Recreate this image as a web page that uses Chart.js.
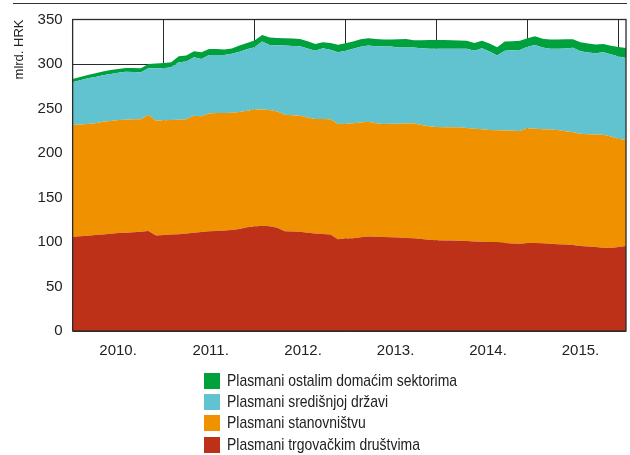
<!DOCTYPE html>
<html>
<head>
<meta charset="utf-8">
<script src="https://cdn.jsdelivr.net/npm/chart.js@4"></script>
<style>
    html, body { margin: 0; padding: 0; background: #fff; }
    #okvir { position: relative; width: 630px; height: 455px; }
    #crta { position: absolute; left: 13px; top: 3px; width: 614px; border-top: 1.5px solid #333; }
    #legenda {
        position: absolute; left: 204px; top: 370px;
        font-family: "Liberation Sans", Arial, sans-serif;
        font-size: 17px; color: #222;
    }
    #legenda div { display: flex; align-items: center; height: 21.3px; white-space: nowrap; }
    #legenda span.kvadrat { width: 16px; height: 16px; margin-right: 7px; display: inline-block; flex: none; }
    #legenda span.tekst { display: inline-block; transform: scaleX(0.82); transform-origin: left center; }
</style>
</head>
<body>
<div id="okvir">
    <div id="crta"></div>
    <canvas id="plasmaniChart" width="630" height="455"></canvas>
    <div id="legenda"></div>
</div>
<script>
// Mjesečni podaci, prosinac 2009. - siječanj 2016., mlrd. HRK
const trgovackimDrustvima = [
    106, 106.5, 107, 107.8, 108.5, 109.3, 110, 110.5, 111, 111.5, 112.5, 107.2,
    107.8, 108.3, 108.8, 109.5, 110.5, 111.2, 112, 112.5, 113, 113.5, 114.5, 116.5,
    117.5, 118.2, 117.8, 116, 112, 111.8, 111.4, 110.5, 109.5, 109, 108.4, 103.2,
    103.8, 104.3, 105.3, 106.1, 105.9, 105.6, 105.4, 105, 104.6, 104.2, 103.3, 102.5,
    102, 101.8, 101.6, 101.3, 101, 100.6, 100.2, 99.8, 99.4, 99, 98.4, 97.9,
    98.8, 99, 98.6, 98.1, 97.6, 97.1, 96.6, 95.5, 95, 94.5, 93.6, 93.2,
    94.5, 95.5
];
const stanovnistvu = [
    125.4, 125.5, 125.6, 125.7, 126.5, 126.7, 127, 127, 126.8, 126.5, 130.2, 129.1,
    128.9, 128.7, 128.7, 128.5, 131.4, 130.1, 132.5, 132.4, 132, 131.7, 131.5, 131,
    131.5, 130.8, 130.5, 130.5, 131, 130.7, 130.5, 129.5, 128.7, 129.2, 129.6, 129.4,
    129, 129, 128.9, 129.1, 127.6, 127, 127.4, 128, 128.6, 129.1, 128.2, 127.5,
    127.2, 127.2, 127.3, 127.5, 127, 126.7, 126.4, 126, 126.1, 126.2, 126.5, 126.8,
    128.9, 128.2, 128.2, 128.2, 128.2, 127.4, 126.7, 126, 126, 126.3, 127, 125.3,
    121.5, 119
];
const sredisnjojDrzavi = [
    48, 49.8, 51.4, 52, 52.3, 52.8, 53.2, 53.9, 53.2, 52.7, 52.5, 58.9,
    58.5, 59.3, 64.4, 64.7, 65.7, 64.4, 65.5, 65.3, 65.2, 66.3, 67.9, 69,
    69.8, 76.2, 73.1, 74.5, 77.7, 77.8, 78.1, 77.5, 76.8, 79.5, 78, 80.6,
    82.2, 83.7, 85.3, 85.5, 86.5, 87, 86.8, 85.6, 85.2, 85.1, 86.3, 87.2,
    87.8, 88, 88.1, 88.2, 89, 87.7, 91.1, 88.2, 84, 89.8, 90.6, 91.1,
    91.8, 94.2, 91.7, 90.7, 91.2, 93, 94.9, 92.8, 91.8, 91.3, 92.6, 92.5,
    92.5, 92.3
];
const ostalimSektorima = [
    3.8, 3.7, 3.7, 4, 4.2, 4.5, 4.3, 4.2, 4.4, 4.5, 4.8, 5.5,
    6, 5.7, 6.8, 6.8, 6.7, 7.5, 6.8, 6.6, 6, 6, 6.8, 7,
    7.5, 7.5, 8.3, 8.3, 8.3, 8.3, 8.2, 8, 7.6, 6.8, 7.5, 8.3,
    8.2, 8.2, 8.3, 8.3, 8, 7.9, 7.9, 9.1, 9.8, 8.3, 9, 9.8,
    10.1, 9.9, 9.6, 9.3, 9, 8.7, 8.3, 9, 9.3, 10.2, 10.1, 10.2,
    9.5, 9.8, 10, 10.5, 10.5, 10.2, 9.6, 10.2, 10.2, 9.7, 9.4, 9.5,
    10.5, 11.2
];
const godine = ['2010.', '2011.', '2012.', '2013.', '2014.', '2015.'];
const granice = [0, 12, 24, 36, 48, 60, 72];
const sredineGodina = [6, 18.2, 30.4, 42.6, 54.8, 67];
const yTicks = [0, 50, 100, 150, 200, 250, 300, 350];

const tamno = '#2b2b2b';
const font = "'Liberation Sans', Arial, sans-serif";

function tocke(niz) {
    return niz.map((v, i) => ({ x: i, y: v }));
}

const serije = [
    { label: 'Plasmani trgovačkim društvima', data: trgovackimDrustvima, boja: '#bd3118', fill: 'origin' },
    { label: 'Plasmani stanovništvu', data: stanovnistvu, boja: '#f09200', fill: '-1' },
    { label: 'Plasmani središnjoj državi', data: sredisnjojDrzavi, boja: '#62c3d0', fill: '-1' },
    { label: 'Plasmani ostalim domaćim sektorima', data: ostalimSektorima, boja: '#00a13c', fill: '-1' }
];

// Okvir oko područja grafikona
const okvirPlugin = {
    id: 'okvir',
    afterDatasetsDraw(chart) {
        const a = chart.chartArea;
        const c = chart.ctx;
        c.save();
        c.strokeStyle = tamno;
        c.lineWidth = 1.3;
        c.strokeRect(a.left, a.top, a.right - a.left, a.bottom - a.top);
        c.restore();
    }
};

const ctx = document.getElementById('plasmaniChart').getContext('2d');
const chart = new Chart(ctx, {
    type: 'line',
    data: {
        datasets: serije.map(s => ({
            label: s.label,
            data: tocke(s.data),
            backgroundColor: s.boja,
            borderColor: s.boja,
            borderWidth: 0,
            pointRadius: 0,
            tension: 0,
            fill: s.fill
        }))
    },
    options: {
        responsive: false,
        animation: false,
        layout: { padding: { left: 8, top: 19.5, right: 4, bottom: 84 } },
        plugins: {
            legend: { display: false },
            tooltip: { enabled: false }
        },
        scales: {
            x: {
                type: 'linear',
                min: 0,
                max: 73,
                afterBuildTicks: (axis) => {
                    axis.ticks = granice.concat(sredineGodina).sort((a, b) => a - b).map(v => ({ value: v }));
                },
                grid: {
                    color: (c) => granice.includes(c.tick && c.tick.value) ? tamno : 'rgba(0,0,0,0)',
                    lineWidth: 1,
                    drawTicks: false
                },
                border: { display: false },
                ticks: {
                    autoSkip: false,
                    maxRotation: 0,
                    padding: 11,
                    color: '#222',
                    font: { family: font, size: 15 },
                    callback: (v) => {
                        const k = sredineGodina.indexOf(v);
                        return k >= 0 ? godine[k] : '';
                    }
                }
            },
            y: {
                stacked: true,
                min: 0,
                max: 350,
                afterBuildTicks: (axis) => {
                    axis.ticks = yTicks.map(v => ({ value: v }));
                },
                grid: { color: tamno, lineWidth: 1, drawTicks: false },
                border: { display: false },
                ticks: {
                    padding: 10,
                    color: '#222',
                    font: { family: font, size: 15 }
                },
                title: {
                    display: true,
                    text: 'mlrd. HRK',
                    align: 'end',
                    color: '#222',
                    font: { family: font, size: 13 },
                    padding: { top: 4, bottom: 0 }
                }
            }
        }
    },
    plugins: [okvirPlugin]
});

// Legenda ispod grafikona, obrnutim redoslijedom
const legenda = document.getElementById('legenda');
serije.slice().reverse().forEach(s => {
    const red = document.createElement('div');
    const kv = document.createElement('span');
    kv.className = 'kvadrat';
    kv.style.background = s.boja;
    const tekst = document.createElement('span');
    tekst.className = 'tekst';
    tekst.textContent = s.label;
    red.appendChild(kv);
    red.appendChild(tekst);
    legenda.appendChild(red);
});
</script>
</body>
</html>
